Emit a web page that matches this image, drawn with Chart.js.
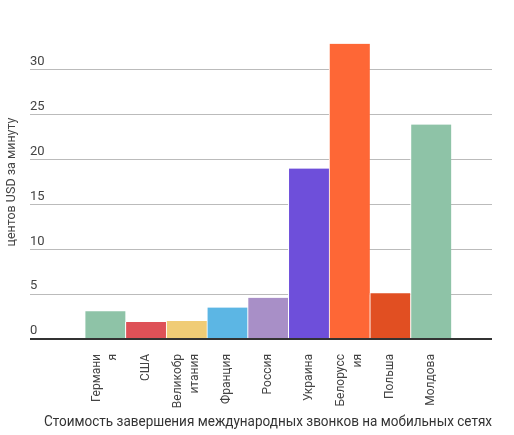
<!DOCTYPE html>
<html>
<head>
<meta charset="utf-8">
<script src="https://cdn.jsdelivr.net/npm/chart.js@4"></script>
<style>
  html, body { margin: 0; padding: 0; background: #fff; }
  #wrap { width: 514px; height: 435px; }
</style>
</head>
<body>
<div id="wrap"><canvas id="chart" width="514" height="435"></canvas></div>
<script>
// empty slots at both ends keep the gap the original leaves around the bars
const countries = ['', ['Германи', 'я'], 'США', ['Великобр', 'итания'], 'Франция', 'Россия',
    'Украина', ['Белорусс', 'ия'], 'Польша', 'Молдова', ''];
const cents = [null, 3.1, 1.9, 2.0, 3.5, 4.6, 19, 32.9, 5.1, 23.9, null];
const barColors = ['#fff', '#8ec3a7', '#de5157', '#f0cc76', '#5cb6e4', '#a88fc7',
    '#6e4fda', '#fe6736', '#e14f22', '#8ec3a7', '#fff'];
const yTicks = [0, 5, 10, 15, 20, 25, 30];

const font = 'Roboto, "Noto Sans", sans-serif';

// wrapped labels are centred on their bar, not started from it
const centerWrapped = {
    id: 'centerWrapped',
    beforeDraw(chart) {
        const items = chart.scales.x.getLabelItems();
        items.forEach(item => {
            if (Array.isArray(item.label) && !item._moved) {
                item.options.translation[0] -= (item.label.length - 1) * item.font.lineHeight / 2;
                item._moved = true;
            }
        });
    }
};

document.addEventListener('DOMContentLoaded', () => {
    const ctx = document.getElementById('chart').getContext('2d');

    new Chart(ctx, {
        type: 'bar',
        data: {
            labels: countries,
            datasets: [{
                data: cents,
                backgroundColor: barColors,
                borderColor: '#fff',
                borderWidth: { left: 1, right: 0, top: 0, bottom: 0 },
                borderSkipped: false,
                barPercentage: 1,
                categoryPercentage: 1
            }]
        },
        options: {
            responsive: false,
            animation: false,
            layout: { padding: { top: 25, right: 22, bottom: 4, left: 0 } },
            plugins: {
                legend: { display: false },
                tooltip: { enabled: false }
            },
            scales: {
                x: {
                    afterFit: (scale) => { scale.height = 92; },
                    grid: { display: false },
                    border: { display: false },
                    ticks: {
                        autoSkip: false,
                        minRotation: 90,
                        maxRotation: 90,
                        padding: 7,
                        color: '#444',
                        font: { family: font, size: 12, lineHeight: 1.35 }
                    },
                    title: {
                        display: true,
                        text: 'Стоимость завершения международных звонков на мобильных сетях',
                        color: '#333',
                        font: { family: font, size: 14.2 },
                        padding: { top: 2, bottom: 0 }
                    }
                },
                y: {
                    min: 0,
                    max: 35,
                    afterBuildTicks: (scale) => {
                        scale.ticks = yTicks.map(v => ({ value: v }));
                    },
                    afterFit: (scale) => { scale.width = 44; },
                    border: { display: false },
                    grid: {
                        drawTicks: true,
                        tickLength: 14,
                        color: (c) => c.tick && c.tick.value === 0 ? '#333' : '#bbb',
                        tickColor: (c) => c.tick && c.tick.value === 0 ? '#333' : '#bbb',
                        lineWidth: (c) => c.tick && c.tick.value === 0 ? 2 : 1
                    },
                    ticks: {
                        mirror: true,
                        crossAlign: 'near',
                        padding: -14,
                        labelOffset: -8,
                        color: '#444',
                        font: { family: font, size: 13 }
                    },
                    title: {
                        display: true,
                        text: 'центов USD за минуту',
                        color: '#444',
                        font: { family: font, size: 12.5 },
                        padding: { top: 4, bottom: 4 }
                    }
                }
            }
        },
        plugins: [centerWrapped]
    });
});
</script>
</body>
</html>
